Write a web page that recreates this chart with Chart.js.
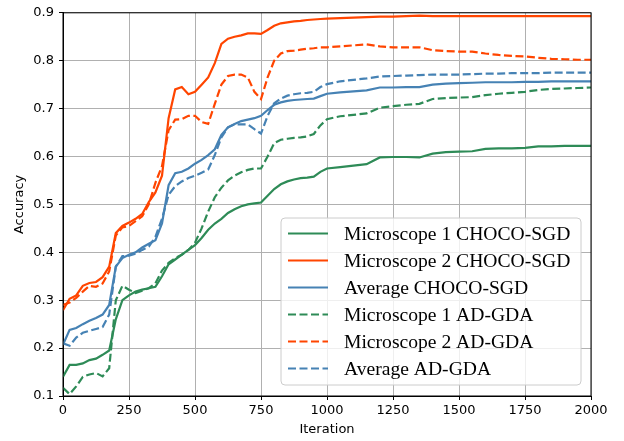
<!DOCTYPE html>
<html>
<head>
<meta charset="utf-8">
<script src="https://cdn.jsdelivr.net/npm/chart.js@4.4.1/dist/chart.umd.min.js"></script>
<style>
  html, body { margin: 0; padding: 0; background: #fff; }
  #wrap { width: 624px; height: 441px; }
</style>
</head>
<body>
<div id="wrap"><canvas id="accChart" width="624" height="441"></canvas></div>
<script>
// Iterations (x values shared by every series)
const iterations = [
  0, 25, 50, 75, 100, 125, 150, 175, 200, 225, 250, 275, 300, 325, 350, 375, 400, 425, 450, 475,
  500, 525, 550, 575, 600, 625, 650, 675, 700, 725, 750, 775, 800, 825, 850, 875, 900, 925, 950, 975,
  1000, 1050, 1100, 1150, 1200, 1250, 1300, 1350, 1400, 1450, 1500, 1550, 1600, 1650, 1700, 1750,
  1800, 1850, 1900, 1950, 2000
];

// Microscope 1 CHOCO-SGD
const micro1Choco = [
  0.140, 0.165, 0.165, 0.168, 0.175, 0.178, 0.186, 0.195, 0.260, 0.300, 0.310, 0.318, 0.322, 0.325, 0.328, 0.350, 0.375, 0.385, 0.395, 0.405,
  0.415, 0.430, 0.447, 0.460, 0.470, 0.482, 0.490, 0.496, 0.500, 0.502, 0.504, 0.518, 0.532, 0.542, 0.548, 0.552, 0.555, 0.556, 0.558, 0.568,
  0.575, 0.578, 0.581, 0.584, 0.598, 0.599, 0.599, 0.598, 0.606, 0.609, 0.610, 0.611, 0.616, 0.617, 0.617, 0.618,
  0.621, 0.621, 0.622, 0.622, 0.622
];
// Microscope 2 CHOCO-SGD
const micro2Choco = [
  0.279, 0.303, 0.310, 0.330, 0.336, 0.338, 0.348, 0.370, 0.440, 0.455, 0.462, 0.470, 0.480, 0.505, 0.525, 0.560, 0.680, 0.740, 0.745, 0.730,
  0.735, 0.750, 0.765, 0.795, 0.835, 0.846, 0.850, 0.853, 0.857, 0.857, 0.856, 0.864, 0.873, 0.878, 0.880, 0.882, 0.883, 0.885, 0.886, 0.887,
  0.888, 0.889, 0.890, 0.891, 0.892, 0.892, 0.893, 0.894, 0.893, 0.893, 0.893, 0.893, 0.893, 0.893, 0.893, 0.893,
  0.893, 0.893, 0.893, 0.893, 0.893
];
// Average CHOCO-SGD
const avgChoco = [
  0.207, 0.238, 0.242, 0.250, 0.257, 0.263, 0.270, 0.290, 0.370, 0.388, 0.395, 0.400, 0.410, 0.418, 0.425, 0.460, 0.540, 0.565, 0.568, 0.575,
  0.585, 0.593, 0.603, 0.615, 0.645, 0.661, 0.668, 0.674, 0.677, 0.680, 0.685, 0.697, 0.708, 0.713, 0.716, 0.718, 0.719, 0.720, 0.721, 0.726,
  0.731, 0.734, 0.736, 0.738, 0.744, 0.744, 0.745, 0.745, 0.750, 0.752, 0.753, 0.754, 0.755, 0.755, 0.755, 0.756,
  0.756, 0.757, 0.757, 0.757, 0.757
];
// Microscope 1 AD-GDA
const micro1Adgda = [
  0.117, 0.104, 0.120, 0.140, 0.145, 0.148, 0.141, 0.158, 0.300, 0.330, 0.322, 0.315, 0.320, 0.325, 0.335, 0.362, 0.378, 0.388, 0.395, 0.405,
  0.420, 0.450, 0.485, 0.515, 0.535, 0.550, 0.560, 0.567, 0.572, 0.575, 0.575, 0.600, 0.628, 0.635, 0.637, 0.639, 0.640, 0.642, 0.647, 0.665,
  0.678, 0.684, 0.687, 0.690, 0.702, 0.705, 0.708, 0.710, 0.720, 0.722, 0.723, 0.724, 0.728, 0.731, 0.733, 0.735,
  0.739, 0.741, 0.742, 0.743, 0.744
];
// Microscope 2 AD-GDA
const micro2Adgda = [
  0.290, 0.295, 0.305, 0.318, 0.330, 0.328, 0.335, 0.360, 0.435, 0.452, 0.455, 0.465, 0.475, 0.500, 0.545, 0.580, 0.655, 0.677, 0.678, 0.685,
  0.685, 0.672, 0.668, 0.710, 0.750, 0.768, 0.771, 0.771, 0.765, 0.735, 0.720, 0.765, 0.800, 0.815, 0.820, 0.821, 0.823, 0.825, 0.826, 0.828,
  0.828, 0.830, 0.832, 0.834, 0.830, 0.828, 0.828, 0.828, 0.822, 0.820, 0.819, 0.819, 0.815, 0.812, 0.810, 0.809,
  0.806, 0.804, 0.803, 0.802, 0.802
];
// Average AD-GDA
const avgAdgda = [
  0.210, 0.205, 0.222, 0.232, 0.236, 0.240, 0.244, 0.270, 0.370, 0.392, 0.393, 0.397, 0.405, 0.412, 0.432, 0.470, 0.520, 0.538, 0.548, 0.555,
  0.560, 0.566, 0.573, 0.603, 0.640, 0.661, 0.667, 0.667, 0.667, 0.657, 0.648, 0.685, 0.711, 0.721, 0.727, 0.730, 0.732, 0.733, 0.735, 0.745,
  0.751, 0.757, 0.760, 0.763, 0.767, 0.768, 0.769, 0.770, 0.771, 0.771, 0.771, 0.772, 0.773, 0.773, 0.774, 0.774,
  0.774, 0.775, 0.775, 0.775, 0.775
];

const GREEN = '#2e8b57';
const ORANGE = '#ff4500';
const BLUE = '#4682b4';
const DASH = [8, 3.5];

function toPoints(values) {
  return values.map((v, i) => ({ x: iterations[i], y: v }));
}

function makeSet(label, values, color, dashed) {
  return {
    label: label,
    data: toPoints(values),
    borderColor: color,
    backgroundColor: color,
    borderWidth: 2.2,
    borderDash: dashed ? DASH : [],
    pointRadius: 0,
    tension: 0,
    fill: false
  };
}

const datasets = [
  makeSet('Microscope 1 CHOCO-SGD', micro1Choco, GREEN, false),
  makeSet('Microscope 2 CHOCO-SGD', micro2Choco, ORANGE, false),
  makeSet('Average CHOCO-SGD', avgChoco, BLUE, false),
  makeSet('Microscope 1 AD-GDA', micro1Adgda, GREEN, true),
  makeSet('Microscope 2 AD-GDA', micro2Adgda, ORANGE, true),
  makeSet('Average AD-GDA', avgAdgda, BLUE, true)
];
// later series on top, like matplotlib
datasets.forEach((ds, i) => { ds.order = datasets.length - i; });

// Black frame around the plot area
const framePlugin = {
  id: 'frame',
  afterDatasetsDraw(chart) {
    const { ctx, chartArea: a } = chart;
    ctx.save();
    ctx.strokeStyle = '#000';
    ctx.lineWidth = 1;
    ctx.strokeRect(a.left, a.top, a.right - a.left, a.bottom - a.top);
    ctx.restore();
  }
};

// Legend box inside the plot, lower right
const legendPlugin = {
  id: 'innerLegend',
  afterDraw(chart) {
    const { ctx, chartArea: a } = chart;
    const boxRight = a.right - 10;
    const boxBottom = a.bottom - 11;
    const boxW = 300, boxH = 167;
    const x0 = boxRight - boxW, y0 = boxBottom - boxH;
    ctx.save();
    ctx.beginPath();
    ctx.roundRect(x0, y0, boxW, boxH, 4);
    ctx.fillStyle = 'rgba(255,255,255,0.8)';
    ctx.fill();
    ctx.strokeStyle = '#cccccc';
    ctx.lineWidth = 1;
    ctx.stroke();

    ctx.font = '19.6px "Liberation Serif", "DejaVu Serif", serif';
    ctx.textBaseline = 'middle';
    ctx.fillStyle = '#000';
    chart.data.datasets.forEach((ds, i) => {
      const y = y0 + 15.5 + i * 27;
      ctx.beginPath();
      ctx.strokeStyle = ds.borderColor;
      ctx.lineWidth = ds.borderWidth;
      ctx.setLineDash(ds.borderDash);
      ctx.moveTo(x0 + 7, y);
      ctx.lineTo(x0 + 47, y);
      ctx.stroke();
      ctx.setLineDash([]);
      ctx.fillText(ds.label, x0 + 63, y + 1);
    });
    ctx.restore();
  }
};

const tickFont = { family: '"DejaVu Sans", sans-serif', size: 13 };

new Chart(document.getElementById('accChart'), {
  type: 'line',
  data: { datasets: datasets },
  options: {
    responsive: false,
    animation: false,
    layout: { padding: { left: 0, right: 33, top: 7, bottom: 0 } },
    plugins: {
      legend: { display: false },
      tooltip: { enabled: false }
    },
    scales: {
      x: {
        type: 'linear',
        min: 0,
        max: 2000,
        ticks: {
          stepSize: 250,
          color: '#000',
          font: tickFont,
          padding: 3,
          maxRotation: 0,
          callback: (v) => String(v)
        },
        grid: { color: '#b0b0b0', lineWidth: 1, tickColor: '#000', tickLength: 4 },
        border: { color: '#000' },
        title: { display: true, text: 'Iteration', color: '#000', font: tickFont, padding: { top: 0, bottom: 4 } },
        afterFit(scale) { scale.height = 45; }
      },
      y: {
        min: 0.1,
        max: 0.9,
        ticks: {
          stepSize: 0.1,
          color: '#000',
          font: tickFont,
          padding: 5,
          callback: (v) => v.toFixed(1)
        },
        grid: { color: '#b0b0b0', lineWidth: 1, tickColor: '#000', tickLength: 4 },
        border: { color: '#000' },
        title: { display: true, text: 'Accuracy', color: '#000', font: tickFont, padding: { top: 12, bottom: 0 } },
        afterFit(scale) { scale.width = 63; }
      }
    }
  },
  plugins: [framePlugin, legendPlugin]
});
</script>
</body>
</html>
